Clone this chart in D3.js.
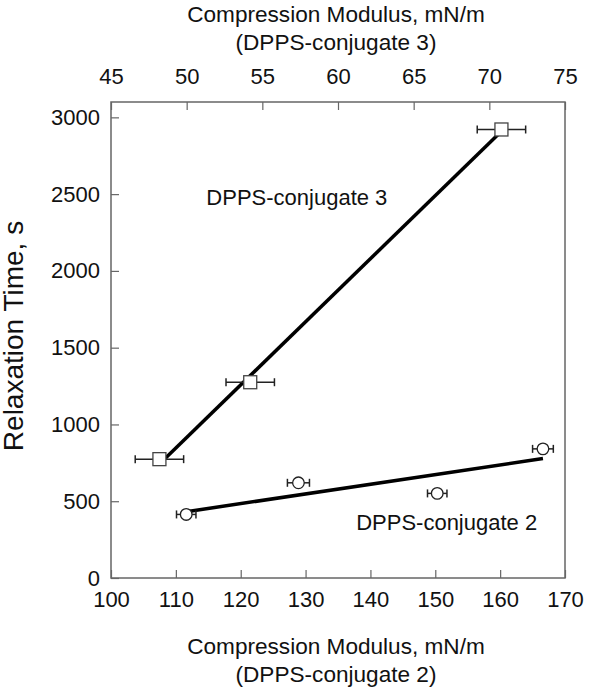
<!DOCTYPE html>
<html>
<head>
<meta charset="utf-8">
<script src="https://cdn.jsdelivr.net/npm/d3@7"></script>
<style>
  body { margin: 0; background: #fff; }
  text { font-family: "Liberation Sans", Arial, sans-serif; fill: #111; }
</style>
</head>
<body>
<svg id="chart" width="609" height="689"></svg>
<script>
// conjugate 3 -> top axis (squares)
const modulus3 = [48.2, 54.2, 70.8];
const time3 = [774, 1275, 2921];
const err3 = [1.6, 1.6, 1.6];
// conjugate 2 -> bottom axis (circles)
const modulus2 = [111.6, 128.9, 150.3, 166.6];
const time2 = [414, 620, 551, 841];
const err2 = [1.5, 1.7, 1.5, 1.6];

const bottomTicks = [100, 110, 120, 130, 140, 150, 160, 170];
const topTicks = [45, 50, 55, 60, 65, 70, 75];
const yTicks = [0, 500, 1000, 1500, 2000, 2500, 3000];

const margin = {top: 102, right: 44, bottom: 111, left: 111};
const width = 609, height = 689;
const innerWidth = width - margin.left - margin.right;
const innerHeight = height - margin.top - margin.bottom;

const svg = d3.select('#chart');
const g = svg.append('g').attr('transform', `translate(${margin.left},${margin.top})`);

const x2 = d3.scaleLinear().domain([100, 170]).range([0, innerWidth]);
const x3 = d3.scaleLinear().domain([45, 75]).range([0, innerWidth]);
const y = d3.scaleLinear().domain([0, 3100]).range([innerHeight, 0]);

// frame
g.append('rect')
  .attr('width', innerWidth).attr('height', innerHeight)
  .attr('fill', 'none').attr('stroke', '#666').attr('stroke-width', 1.5);

// axes with inward ticks
const bAxis = g.append('g').attr('transform', `translate(0,${innerHeight})`)
  .call(d3.axisBottom(x2).tickValues(bottomTicks).tickSize(-8).tickPadding(13));
const tAxis = g.append('g')
  .call(d3.axisTop(x3).tickValues(topTicks).tickSize(-8).tickPadding(18));
const lAxis = g.append('g')
  .call(d3.axisLeft(y).tickValues(yTicks).tickFormat(d3.format('d')).tickSize(-8).tickPadding(11));

[bAxis, tAxis, lAxis].forEach(a => {
  a.attr('font-size', 22).attr('font-family', '"Liberation Sans", Arial, sans-serif');
  a.select('.domain').remove();
  a.selectAll('line').attr('stroke', '#666').attr('stroke-width', 1.2);
  a.selectAll('text').attr('fill', '#111');
});

// least squares fit line drawn over the data range
function fit(xs, ys) {
  const mx = d3.mean(xs), my = d3.mean(ys);
  const sxy = d3.sum(xs, (v, i) => (v - mx) * (ys[i] - my));
  const sxx = d3.sum(xs, v => (v - mx) * (v - mx));
  const m = sxy / sxx;
  return v => my + m * (v - mx);
}

const f3 = fit(modulus3, time3);
const f2 = fit(modulus2, time2);
const ext3 = d3.extent(modulus3), ext2 = d3.extent(modulus2);

g.append('line')
  .attr('x1', x3(ext3[0])).attr('y1', y(f3(ext3[0])))
  .attr('x2', x3(ext3[1])).attr('y2', y(f3(ext3[1])))
  .attr('stroke', '#000').attr('stroke-width', 3.5);
g.append('line')
  .attr('x1', x2(ext2[0])).attr('y1', y(f2(ext2[0])))
  .attr('x2', x2(ext2[1])).attr('y2', y(f2(ext2[1])))
  .attr('stroke', '#000').attr('stroke-width', 3.5);

// error bars
function errorBars(xs, ys, es, sx) {
  const eb = g.append('g').attr('stroke', '#222').attr('stroke-width', 1.5);
  xs.forEach((v, i) => {
    const cy = y(ys[i]);
    eb.append('line').attr('x1', sx(v - es[i])).attr('x2', sx(v + es[i]))
      .attr('y1', cy).attr('y2', cy);
    [v - es[i], v + es[i]].forEach(e => {
      eb.append('line').attr('x1', sx(e)).attr('x2', sx(e))
        .attr('y1', cy - 4).attr('y2', cy + 4);
    });
  });
}
errorBars(modulus3, time3, err3, x3);
errorBars(modulus2, time2, err2, x2);

// markers
g.selectAll('.sq').data(modulus3).join('rect')
  .attr('class', 'sq')
  .attr('x', d => x3(d) - 6.5).attr('y', (d, i) => y(time3[i]) - 6.5)
  .attr('width', 13).attr('height', 13)
  .attr('fill', '#fff').attr('stroke', '#444').attr('stroke-width', 1.3);

g.selectAll('.ci').data(modulus2).join('circle')
  .attr('class', 'ci')
  .attr('cx', d => x2(d)).attr('cy', (d, i) => y(time2[i]))
  .attr('r', 5.8)
  .attr('fill', '#fff').attr('stroke', '#222').attr('stroke-width', 1.3);

// series labels
g.append('text').attr('x', x3(51.3)).attr('y', y(2430))
  .attr('font-size', 22).text('DPPS-conjugate 3');
g.append('text').attr('x', x2(137.8)).attr('y', y(310))
  .attr('font-size', 22).text('DPPS-conjugate 2');

// axis titles
const cx = 336;
svg.append('text').attr('x', cx).attr('y', 22).attr('text-anchor', 'middle')
  .attr('font-size', 22.6).text('Compression Modulus, mN/m');
svg.append('text').attr('x', cx).attr('y', 50).attr('text-anchor', 'middle')
  .attr('font-size', 22.6).text('(DPPS-conjugate 3)');
svg.append('text').attr('x', cx).attr('y', 654).attr('text-anchor', 'middle')
  .attr('font-size', 22.6).text('Compression Modulus, mN/m');
svg.append('text').attr('x', cx).attr('y', 682).attr('text-anchor', 'middle')
  .attr('font-size', 22.6).text('(DPPS-conjugate 2)');
svg.append('text')
  .attr('transform', 'translate(23,336) rotate(-90)')
  .attr('text-anchor', 'middle').attr('font-size', 28).text('Relaxation Time, s');
</script>
</body>
</html>
